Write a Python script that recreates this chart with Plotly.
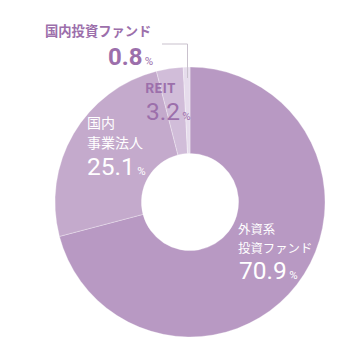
import plotly.graph_objects as go

# Shareholder composition
labels = ["外資系投資ファンド", "国内事業法人", "REIT", "国内投資ファンド"]
values = [70.9, 25.1, 3.2, 0.8]
colors = ["#b899c3", "#c4aacc", "#d1bdd9", "#e6dcec"]

W, H = 360, 340
JP = "Noto Sans CJK JP"
NUM = "Roboto"
PURPLE = "#9c6fab"

# vertical font metrics (ascent, descent) as fractions of the em
METRICS = {JP: (1.16, 0.288), NUM: (0.928, 0.244)}


def px(x, y):
    return x / W, 1 - y / H


fig = go.Figure(
    go.Pie(
        labels=labels,
        values=values,
        hole=0.36,
        sort=False,
        direction="clockwise",
        rotation=0,
        marker=dict(colors=colors, line=dict(color="rgba(255,255,255,0.5)", width=0.6)),
        textinfo="none",
        hoverinfo="skip",
        domain=dict(x=[55 / W, 325 / W], y=[1 - 337 / H, 1 - 67 / H]),
        showlegend=False,
    )
)


def pct(v, big, small, bold=False):
    num = f"{v:.1f}"
    if bold:
        num = f"<b>{num}</b>"
    return (f"<span style='font-size:{big}px'>{num}</span>"
            f"<span style='font-size:{small}px'>\u2009%</span>")


annotations = []


def add(text, x, baseline, size, color, family=JP, xanchor="left"):
    asc, desc = METRICS[family]
    cy = baseline - (asc - desc) / 2 * size
    ax, ay = px(x, cy)
    annotations.append(
        dict(
            text=text, x=ax, y=ay, xref="paper", yref="paper",
            xanchor=xanchor, yanchor="middle", showarrow=False,
            borderpad=0,
            font=dict(family=family, size=size, color=color),
        )
    )


# 国内投資ファンド (outside, with leader line)
add(f"<b>{labels[3]}</b>", 44, 36, 13.3, PURPLE)
add(pct(values[3], 24, 11.5, bold=True), 154, 65, 24, PURPLE, family=NUM, xanchor="right")

# REIT
add(f"<b>{labels[2]}</b>", 144, 93, 13.5, PURPLE)
add(pct(values[2], 24.5, 11.5), 144.5, 120, 24.5, PURPLE, family=NUM)

# 国内事業法人
add("国内", 86, 128.6, 14, "white")
add("事業法人", 86, 148.4, 14, "white")
add(pct(values[1], 24.5, 11.5), 86, 175.2, 24.5, "white", family=NUM)

# 外資系投資ファンド
add("外資系", 237, 234.5, 12.4, "white")
add("投資ファンド", 237, 253.3, 12.4, "white")
add(pct(values[0], 24.5, 11.5), 237.5, 279, 24.5, "white", family=NUM)

# leader line for the smallest slice
x0, y0 = px(162, 44)
x1, y1 = px(187.5, 44)
x2, y2 = px(187.5, 78)
shapes = [
    dict(type="path", xref="paper", yref="paper",
         path=f"M {x0} {y0} L {x1} {y1} L {x2} {y2}",
         line=dict(color="#c9c1cd", width=1)),
]

fig.update_layout(
    width=W, height=H,
    margin=dict(l=0, r=0, t=0, b=0),
    paper_bgcolor="white", plot_bgcolor="white",
    annotations=annotations, shapes=shapes,
)

fig.write_html("out.html")
